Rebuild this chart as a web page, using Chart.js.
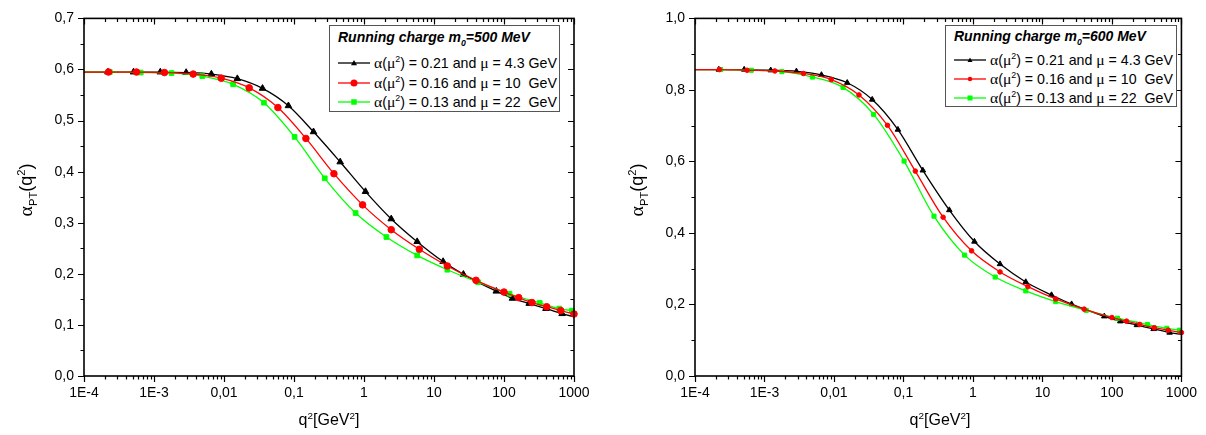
<!DOCTYPE html>
<html>
<head>
<meta charset="utf-8">
<title>Running charge</title>
<script src="https://cdn.jsdelivr.net/npm/chart.js@4.4.1/dist/chart.umd.min.js"></script>
<style>
  html, body { margin: 0; padding: 0; background: #fff; }
  body { position: relative; width: 1206px; height: 435px; overflow: hidden;
         font-family: "Liberation Sans", Arial, sans-serif; color: #000; }
  canvas { position: absolute; top: 0; }
  #chartL { left: 0; }
  #chartR { left: 603px; }
  .gr { font-family: "Liberation Serif", "Times New Roman", serif; font-size: 110%; }
  sup, sub { font-size: 62%; line-height: 0; }
  .ytitle { position: absolute; width: 140px; height: 22px; line-height: 22px; text-align: center;
            font-size: 18px; transform: rotate(-90deg); white-space: nowrap; }
  .xtitle { position: absolute; width: 200px; top: 410px; line-height: 20px; text-align: center;
            font-size: 16px; white-space: nowrap; }
  .legend { position: absolute; box-sizing: border-box; border: 1.5px solid #555; background: #fff; }
  .legend .ttl { position: absolute; left: 8px; font-weight: bold; font-style: italic;
                 font-size: 14px; line-height: 16px; white-space: nowrap; }
  .legend .row { position: absolute; left: 8px; height: 18px; line-height: 18px; font-size: 14.2px;
                 white-space: nowrap; display: flex; align-items: center; }
  .legend .row > span { margin-left: 4px; }
</style>
</head>
<body>
<canvas id="chartL" width="603" height="435"></canvas>
<canvas id="chartR" width="603" height="435"></canvas>

<div class="ytitle" style="left:-45px; top:179px;"><span class="gr">α</span><sub>PT</sub>(q<sup>2</sup>)</div>
<div class="ytitle" style="left:566px; top:179px;"><span class="gr">α</span><sub>PT</sub>(q<sup>2</sup>)</div>
<div class="xtitle" style="left:229px;">q<sup>2</sup>[GeV<sup>2</sup>]</div>
<div class="xtitle" style="left:840px;">q<sup>2</sup>[GeV<sup>2</sup>]</div>

<script>
// x axis (q^2 in GeV^2, log scale)
const xTickValues = [1e-4, 1e-3, 0.01, 0.1, 1, 10, 100, 1000]
const xTickLabels = ['1E-4', '1E-3', '0,01', '0,1', '1', '10', '100', '1000']

// q^2 positions of the points (first one is the curve at the left axis, no marker)
const qBlack = [1e-4, 2.2e-4, 5.1e-4, 1.23e-3, 2.88e-3, 6.6e-3, 0.0155, 0.0355, 0.0832, 0.19, 0.457,
                1.05, 2.45, 5.75, 13.5, 26.3, 77.6, 132, 229, 398, 676, 1000]
const qRed = [1e-4, 2.24e-4, 5.62e-4, 1.41e-3, 3.63e-3, 9.12e-3, 0.0229, 0.0589, 0.148, 0.372, 0.955,
              2.45, 6.17, 15.5, 39.8, 100, 162, 251, 407, 646, 1000]
const qGreen = [1e-4, 2.34e-4, 6.46e-4, 1.78e-3, 4.9e-3, 0.0135, 0.0372, 0.102, 0.275, 0.759, 2.09,
                5.75, 15.5, 42.7, 120, 324, 617, 933]

// m0 = 500 MeV
const leftBlack = [0.595, 0.595, 0.595, 0.595, 0.594, 0.591, 0.582, 0.563, 0.529, 0.478, 0.419,
                   0.361, 0.3075, 0.263, 0.224, 0.199, 0.166, 0.152, 0.142, 0.132, 0.122, 0.116]
const leftRed = [0.595, 0.595, 0.595, 0.594, 0.591, 0.583, 0.564, 0.5255, 0.465, 0.396, 0.335,
                 0.2864, 0.248, 0.2154, 0.1873, 0.1643, 0.1534, 0.1438, 0.1356, 0.128, 0.1214]
const leftGreen = [0.595, 0.595, 0.594, 0.593, 0.587, 0.571, 0.535, 0.468, 0.387, 0.319, 0.272,
                   0.236, 0.208, 0.1835, 0.161, 0.143, 0.132, 0.128]

// m0 = 600 MeV
const rightBlack = [0.857, 0.857, 0.857, 0.855, 0.852, 0.842, 0.820, 0.773, 0.689, 0.575, 0.464,
                    0.376, 0.313, 0.263, 0.2265, 0.201, 0.167, 0.153, 0.1425, 0.1315, 0.1214, 0.116]
const rightRed = [0.857, 0.857, 0.855, 0.853, 0.846, 0.829, 0.786, 0.701, 0.573, 0.444, 0.350,
                  0.291, 0.250, 0.2155, 0.187, 0.1635, 0.1534, 0.1443, 0.135, 0.128, 0.1215]
const rightGreen = [0.857, 0.857, 0.855, 0.851, 0.836, 0.807, 0.7315, 0.601, 0.447, 0.338, 0.2767,
                    0.238, 0.208, 0.1836, 0.1616, 0.144, 0.1333, 0.128]

// legend texts
const massValues = ['500', '600']
const alphaValues = ['0.21', '0.16', '0.13']
const muValues = ['4.3', '10&nbsp;', '22&nbsp;']

const seriesColors = ['#000000', '#ff0000', '#00ff00']
const seriesStyles = ['triangle', 'circle', 'rect']

// box + ticks like the original plot: left/bottom ticks outside, top/right inside
const frameTicks = {
    id: 'frameTicks',
    afterDatasetsDraw(chart, args, opts) {
        const ctx = chart.ctx
        const a = chart.chartArea
        const x = chart.scales.x
        const y = chart.scales.y
        ctx.save()
        ctx.strokeStyle = '#000'
        ctx.lineWidth = 1.2
        ctx.beginPath()
        for (let e = -4; e <= 3; e++) {
            for (let m = 1; m <= 9; m++) {
                const v = m * Math.pow(10, e)
                if (v > 1000.0001) break
                const px = Math.round(x.getPixelForValue(v)) + 0.5
                const len = m === 1 ? 6 : 3.5
                ctx.moveTo(px, a.bottom)
                ctx.lineTo(px, a.bottom + len)
                ctx.moveTo(px, a.top)
                ctx.lineTo(px, a.top + len)
            }
        }
        const n = Math.round(opts.yMax / opts.yMinor)
        const ratio = Math.round(opts.yMajor / opts.yMinor)
        for (let i = 0; i <= n; i++) {
            const py = Math.round(y.getPixelForValue(i * opts.yMinor)) + 0.5
            const len = i % ratio === 0 ? 6 : 3.5
            ctx.moveTo(a.left, py)
            ctx.lineTo(a.left - len, py)
            ctx.moveTo(a.right, py)
            ctx.lineTo(a.right - len, py)
        }
        ctx.stroke()
        ctx.lineWidth = 1.6
        ctx.strokeRect(a.left, a.top, a.right - a.left, a.bottom - a.top)
        ctx.restore()
    }
}

function makeDataset(q, values, idx, radius, bareEnd) {
    const last = q.length - 1
    const r = (c) => (c.dataIndex === 0 || (bareEnd && c.dataIndex === last)) ? 0 : radius[idx]
    return {
        data: q.map((v, i) => ({ x: v, y: values[i] })),
        borderColor: seriesColors[idx],
        backgroundColor: seriesColors[idx],
        borderWidth: 1.3,
        pointStyle: seriesStyles[idx],
        pointBorderWidth: 1,
        pointRadius: r,
        pointHoverRadius: r,
        cubicInterpolationMode: 'monotone',
        fill: false,
        clip: false
    }
}

function makeChart(id, series, o) {
    const tickFont = { family: '"Liberation Sans", Arial, sans-serif', size: 14 }
    return new Chart(document.getElementById(id), {
        type: 'line',
        data: {
            // red on top, then green, then black
            datasets: [
                makeDataset(qRed, series[1], 1, o.radius, false),
                makeDataset(qGreen, series[2], 2, o.radius, false),
                makeDataset(qBlack, series[0], 0, o.radius, true)
            ]
        },
        options: {
            responsive: false,
            animation: false,
            events: [],
            layout: { padding: { top: 11, right: o.padRight, left: 0, bottom: 0 } },
            plugins: {
                legend: { display: false },
                tooltip: { enabled: false },
                frameTicks: { yMax: o.yMax, yMajor: o.yMajor, yMinor: o.yMinor }
            },
            scales: {
                x: {
                    type: 'logarithmic',
                    min: 1e-4,
                    max: 1000,
                    grid: { display: false, drawTicks: false },
                    border: { display: false },
                    ticks: {
                        font: tickFont, color: '#000', padding: 9, autoSkip: false, maxRotation: 0,
                        callback: (v, i) => xTickLabels[i]
                    },
                    afterBuildTicks: (s) => { s.ticks = xTickValues.map(v => ({ value: v })) },
                    afterFit: (s) => { s.height = 59 }
                },
                y: {
                    type: 'linear',
                    min: 0,
                    max: o.yMax,
                    grid: { display: false, drawTicks: false },
                    border: { display: false },
                    ticks: {
                        font: tickFont, color: '#000', padding: 10, stepSize: o.yMajor,
                        callback: (v) => v.toFixed(1).replace('.', ',')
                    },
                    afterFit: (s) => { s.width = o.yWidth }
                }
            }
        },
        plugins: [frameTicks]
    })
}

function markerSvg(idx, size) {
    const c = seriesColors[idx]
    const h = size / 2
    let m
    if (seriesStyles[idx] === 'triangle') {
        m = '<polygon points="16,' + (6 - h) + ' ' + (16 + h) + ',' + (6 + h * 0.75) + ' ' + (16 - h) + ',' + (6 + h * 0.75) + '" fill="' + c + '"/>'
    } else if (seriesStyles[idx] === 'circle') {
        m = '<circle cx="16" cy="6" r="' + h + '" fill="' + c + '"/>'
    } else {
        m = '<rect x="' + (16 - h) + '" y="' + (6 - h) + '" width="' + size + '" height="' + size + '" fill="' + c + '"/>'
    }
    return '<svg width="32" height="12" viewBox="0 0 32 12"><line x1="0" y1="6" x2="32" y2="6" stroke="' + c + '" stroke-width="1.3"/>' + m + '</svg>'
}

function buildLegend(mass, box, titleTop, rowTops, sizes) {
    const el = document.createElement('div')
    el.className = 'legend'
    el.style.left = box[0] + 'px'
    el.style.top = box[1] + 'px'
    el.style.width = box[2] + 'px'
    el.style.height = box[3] + 'px'
    let html = '<div class="ttl" style="top:' + titleTop + 'px">Running charge m<sub>0</sub>=' + mass + ' MeV</div>'
    alphaValues.forEach((a, i) => {
        html += '<div class="row" style="top:' + rowTops[i] + 'px">' + markerSvg(i, sizes[i]) +
            '<span><span class="gr">α</span>(<span class="gr">μ</span><sup>2</sup>) = ' + a +
            ' and <span class="gr">μ</span> = ' + muValues[i] + ' GeV</span></div>'
    })
    el.innerHTML = html
    document.body.appendChild(el)
}

makeChart('chartL', [leftBlack, leftRed, leftGreen],
    { yMax: 0.7, yMajor: 0.1, yMinor: 0.05, yWidth: 84, padRight: 29, radius: [3.8, 3.3, 3.3] })
makeChart('chartR', [rightBlack, rightRed, rightGreen],
    { yMax: 1.0, yMajor: 0.2, yMinor: 0.1, yWidth: 92, padRight: 20, radius: [3.2, 2.3, 2.9] })

buildLegend(massValues[0], [329, 25, 231, 87], 3, [28, 48, 67], [6, 7, 5.5])
buildLegend(massValues[1], [945, 25, 232, 82], 2, [25, 44, 63], [5, 4.5, 5])
</script>
</body>
</html>
